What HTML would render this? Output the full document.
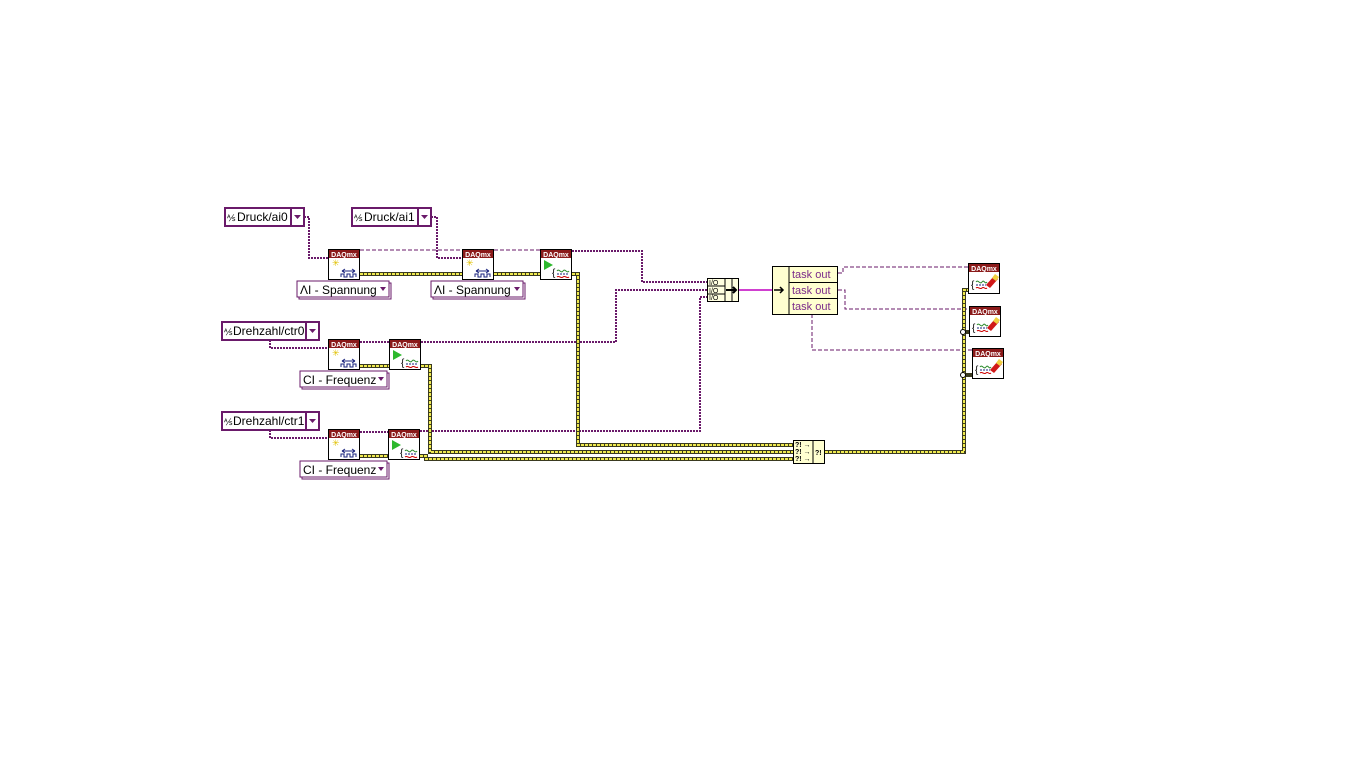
<!DOCTYPE html>
<html><head><meta charset="utf-8"><style>
html,body{margin:0;padding:0;background:#fff;width:1366px;height:768px;overflow:hidden}
svg text{font-family:"Liberation Sans",sans-serif}
</style></head><body>
<svg width="1366" height="768" viewBox="0 0 1366 768" xmlns="http://www.w3.org/2000/svg">
<defs>
<g id="daq">
  <rect x="0.5" y="0.5" width="31" height="30" fill="#fff" stroke="#000"/>
  <rect x="1" y="1" width="30" height="8" fill="#8b1a1a"/>
  <text x="16" y="8" font-size="7" fill="#fff" text-anchor="middle" font-weight="bold">DAQmx</text>
</g>
<g id="create">
  <use href="#daq"/>
  <text x="4" y="17" font-size="9" fill="#e0c000">✳</text>
  <path d="M14 22h13M14 22l3-2M14 22l3 2M27 22l-3-2M27 22l-3 2" stroke="#1a237e" fill="none"/>
  <path d="M13 28v-3h3v3h3v-3h3v3h3v-3h3v3" stroke="#1a237e" fill="none"/>
</g>
<g id="start">
  <use href="#daq"/>
  <path d="M4 11l9 5-9 5z" fill="#2db82d"/>
  <text x="12" y="27" font-size="10" fill="#000">{</text>
  <path d="M17 22c2-3 4 3 6 0s4 3 6 0" stroke="#2a8a2a" fill="none"/>
  <path d="M17 25h12" stroke="#1a237e" stroke-dasharray="2 1"/>
  <path d="M17 28c2-2 4 2 6 0s4 2 6 0" stroke="#c00" fill="none"/>
</g>
<g id="clear">
  <use href="#daq"/>
  <text x="3" y="25" font-size="10" fill="#000">{</text>
  <path d="M8 19c2-3 4 3 6 0s3 3 5 0" stroke="#2a8a2a" fill="none"/>
  <path d="M8 22h10" stroke="#1a237e" stroke-dasharray="2 1"/>
  <path d="M8 25c2-2 4 2 6 0s3 2 5 0" stroke="#c00" fill="none"/>
  <path d="M18 22l8-9 4 3-8 9z" fill="#d01818"/>
  <path d="M24 15l3-4 4 3-3 4z" fill="#f0d040"/>
</g>
</defs>

<!-- task wires (purple dashed) -->
<g fill="none" stroke="#6a1a6a" stroke-width="2" stroke-dasharray="2 1">
  <path d="M304 217H309V258H328"/>
  <path d="M431 217H437V258H462"/>
  <path d="M270 340V348H328"/>
  <path d="M270 430V438H328"/>
  <path d="M360 342H389"/>
  <path d="M421 342H616V290H707"/>
  <path d="M360 432H388"/>
  <path d="M420 431H700V297H707"/>
  <path d="M572 251H642V282H707"/>
</g>
<g fill="none" stroke="#6a1a6a" stroke-width="1" stroke-dasharray="4 2">
  <path d="M360 250H462"/><path d="M494 250H540"/>
  <path d="M838 273H843V267H968"/>
  <path d="M838 290H845V309H969"/>
  <path d="M812 314V350H972"/>
</g>
<path d="M739 290H772" stroke="#d040d0" stroke-width="2"/>

<!-- error wires -->
<g fill="none">
  <g stroke="#3a3a20" stroke-width="4">
    <path d="M360 274H462"/><path d="M494 274H540"/>
    <path d="M572 274H578V445H793"/>
    <path d="M360 366H389"/>
    <path d="M421 366H430V452H793"/>
    <path d="M360 456H388"/>
    <path d="M420 456H426V459H793"/>
    <path d="M825 452H964V290H968"/>
    <path d="M964 332H969"/><path d="M964 375H972"/>
  </g>
  <g stroke="#f0ea50" stroke-width="2" stroke-dasharray="3 1">
    <path d="M360 274H462"/><path d="M494 274H540"/>
    <path d="M572 274H578V445H793"/>
    <path d="M360 366H389"/>
    <path d="M421 366H430V452H793"/>
    <path d="M360 456H388"/>
    <path d="M420 456H426V459H793"/>
    <path d="M825 452H964V290H968"/>
  </g>
</g>
<circle cx="963" cy="332" r="2.5" fill="#fff" stroke="#000"/>
<circle cx="963" cy="375" r="2.5" fill="#fff" stroke="#000"/>

<!-- constants -->
<g font-size="12" fill="#000">
  <rect x="225" y="208" width="79" height="18" fill="#fff" stroke="#6a1a6a" stroke-width="2"/>
  <line x1="291" y1="208" x2="291" y2="226" stroke="#6a1a6a" stroke-width="2"/>
  <text x="227" y="221" font-size="9">⅍</text><text x="237" y="221">Druck/ai0</text>
  <path d="M294 215h7l-3.5 4z" fill="#6a1a6a"/>
  <rect x="352" y="208" width="79" height="18" fill="#fff" stroke="#6a1a6a" stroke-width="2"/>
  <line x1="418" y1="208" x2="418" y2="226" stroke="#6a1a6a" stroke-width="2"/>
  <text x="354" y="221" font-size="9">⅍</text><text x="364" y="221">Druck/ai1</text>
  <path d="M421 215h7l-3.5 4z" fill="#6a1a6a"/>
  <rect x="222" y="322" width="97" height="18" fill="#fff" stroke="#6a1a6a" stroke-width="2"/>
  <line x1="306" y1="322" x2="306" y2="340" stroke="#6a1a6a" stroke-width="2"/>
  <text x="224" y="335" font-size="9">⅍</text><text x="233" y="335">Drehzahl/ctr0</text>
  <path d="M309 329h7l-3.5 4z" fill="#6a1a6a"/>
  <rect x="222" y="412" width="97" height="18" fill="#fff" stroke="#6a1a6a" stroke-width="2"/>
  <line x1="306" y1="412" x2="306" y2="430" stroke="#6a1a6a" stroke-width="2"/>
  <text x="224" y="425" font-size="9">⅍</text><text x="233" y="425">Drehzahl/ctr1</text>
  <path d="M309 419h7l-3.5 4z" fill="#6a1a6a"/>
</g>
<g font-size="12" fill="#000">
  <rect x="299" y="283" width="92" height="16" fill="#fff" stroke="#6a1a6a"/>
  <rect x="297" y="281" width="92" height="16" fill="#fff" stroke="#6a1a6a"/>
  <text x="300" y="294">ΛI - Spannung</text><path d="M380 287h6l-3 4z" fill="#6a1a6a"/>
  <rect x="433" y="283" width="92" height="16" fill="#fff" stroke="#6a1a6a"/>
  <rect x="431" y="281" width="92" height="16" fill="#fff" stroke="#6a1a6a"/>
  <text x="434" y="294">ΛI - Spannung</text><path d="M514 287h6l-3 4z" fill="#6a1a6a"/>
  <rect x="302" y="373" width="87" height="16" fill="#fff" stroke="#6a1a6a"/>
  <rect x="300" y="371" width="87" height="16" fill="#fff" stroke="#6a1a6a"/>
  <text x="303" y="384">CI - Frequenz</text><path d="M378 377h6l-3 4z" fill="#6a1a6a"/>
  <rect x="302" y="463" width="87" height="16" fill="#fff" stroke="#6a1a6a"/>
  <rect x="300" y="461" width="87" height="16" fill="#fff" stroke="#6a1a6a"/>
  <text x="303" y="474">CI - Frequenz</text><path d="M378 467h6l-3 4z" fill="#6a1a6a"/>
</g>

<!-- DAQmx nodes -->
<use href="#create" x="328" y="249"/>
<use href="#create" x="462" y="249"/>
<use href="#start" x="540" y="249"/>
<use href="#create" x="328" y="339"/>
<use href="#start" x="389" y="339"/>
<use href="#create" x="328" y="429"/>
<use href="#start" x="388" y="429"/>
<use href="#clear" x="968" y="263"/>
<use href="#clear" x="969" y="306"/>
<use href="#clear" x="972" y="348"/>

<!-- build array -->
<rect x="707.5" y="278.5" width="31" height="23" fill="#ffffe0" stroke="#000"/>
<line x1="725" y1="278" x2="725" y2="301" stroke="#000"/>
<line x1="732" y1="278" x2="732" y2="301" stroke="#000"/>
<line x1="707" y1="286" x2="725" y2="286" stroke="#000"/>
<line x1="707" y1="294" x2="725" y2="294" stroke="#000"/>
<g font-size="7" fill="#000">
<text x="709" y="285" font-family="Liberation Mono">I/O</text><text x="709" y="293" font-family="Liberation Mono">I/O</text><text x="709" y="300" font-family="Liberation Mono">I/O</text>
</g>
<path d="M726 290h9M733 287l3 3-3 3" stroke="#000" stroke-width="2" fill="none"/>

<!-- yellow node -->
<rect x="772.5" y="266.5" width="65" height="48" fill="#ffffd0" stroke="#000"/>
<line x1="789" y1="266" x2="789" y2="314" stroke="#000"/>
<line x1="789" y1="282.5" x2="838" y2="282.5" stroke="#000"/>
<line x1="789" y1="298.5" x2="838" y2="298.5" stroke="#000"/>
<g font-size="11" fill="#7a2a8a">
<text x="792" y="278">task out</text><text x="792" y="294">task out</text><text x="792" y="310">task out</text>
</g>
<path d="M774 290h9M780 287l3 3-3 3" stroke="#000" stroke-width="1.5" fill="none"/>

<!-- merge errors -->
<rect x="793.5" y="440.5" width="31" height="23" fill="#ffffd0" stroke="#000"/>
<line x1="813" y1="440" x2="813" y2="464" stroke="#000"/>
<g font-size="7" fill="#000" font-weight="bold">
<text x="795" y="447">?! →</text><text x="795" y="454">?! →</text><text x="795" y="461">?! →</text><text x="815" y="455">?!</text>
</g>
</svg>
</body></html>
